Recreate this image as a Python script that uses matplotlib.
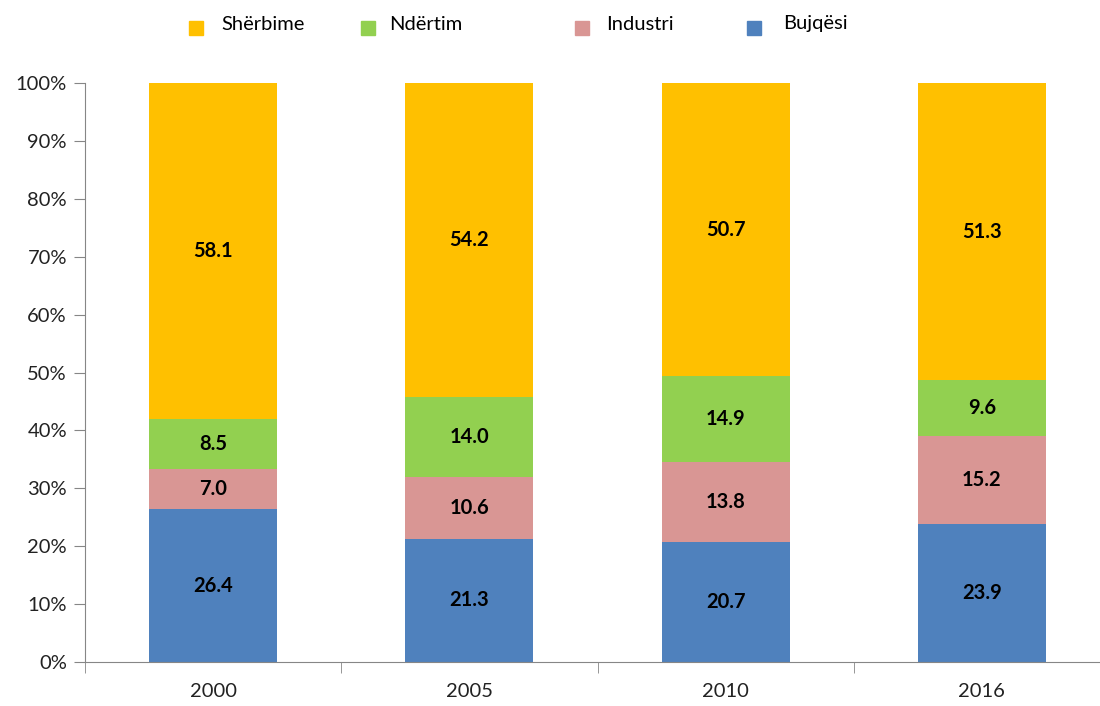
import numpy as np
import matplotlib.pyplot as plt
from matplotlib.lines import Line2D
from matplotlib.ticker import FixedLocator

plt.rcParams['font.family'] = ['Lato', 'DejaVu Sans']

years = ['2000', '2005', '2010', '2016']
series = ['Bujqësi', 'Industri', 'Ndërtim', 'Shërbime']
bujqesi = [26.4, 21.3, 20.7, 23.9]
industri = [7.0, 10.6, 13.8, 15.2]
ndertim = [8.5, 14.0, 14.9, 9.6]
sherbime = [58.1, 54.2, 50.7, 51.3]
colors = ['#4F81BD', '#D99694', '#92D050', '#FFC000']

vals = np.array([bujqesi, industri, ndertim, sherbime])
pct = vals / vals.sum(axis=0) * 100

fig = plt.figure(figsize=(11, 7.06), dpi=100)
ax = fig.add_axes([85 / 1100, 44 / 706, 1015 / 1100, 579 / 706])

x = np.arange(len(years))
bottom = np.zeros(len(years))
for i in range(len(series)):
    ax.bar(x, pct[i], 0.5, bottom=bottom, color=colors[i], linewidth=0)
    for j in range(len(years)):
        ax.text(x[j], bottom[j] + pct[i][j] / 2, f'{vals[i][j]:.1f}',
                ha='center', va='center', fontsize=14.5, fontweight='bold', color='black')
    bottom += pct[i]

ax.set_xlim(-0.5, 3.5 - 10 / 256)
ax.set_ylim(0, 100)
ax.set_yticks(np.arange(0, 101, 10))
ax.set_yticklabels([f'{v}%' for v in range(0, 101, 10)], fontsize=14.5, color='#222222')
ax.set_xticks(x)
ax.set_xticklabels(years, fontsize=14.5, color='#222222')
ax.xaxis.set_minor_locator(FixedLocator([-0.5, 0.5, 1.5, 2.5, 3.5]))
ax.tick_params(axis='x', which='major', length=0, pad=15)
ax.tick_params(axis='x', which='minor', length=8, color='#868686', direction='out')
ax.tick_params(axis='y', length=8, color='#868686', direction='out', pad=5)
for s in ['top', 'right']:
    ax.spines[s].set_visible(False)
for s in ['left', 'bottom']:
    ax.spines[s].set_color('#868686')

# legend, drawn by hand to match spacing
leg_order = [3, 2, 1, 0]
mark_x = [196, 368, 582, 754]
text_x = [221, 389, 606, 783]
for k, i in enumerate(leg_order):
    fig.add_artist(Line2D([mark_x[k] / 1100], [1 - 28 / 706], marker='s', markersize=10,
                          color=colors[i], linestyle='none', transform=fig.transFigure))
    fig.text(text_x[k] / 1100, 1 - 24 / 706, series[i], ha='left', va='center',
             fontsize=14.5, color='black')

fig.savefig('out.png', dpi=100)
